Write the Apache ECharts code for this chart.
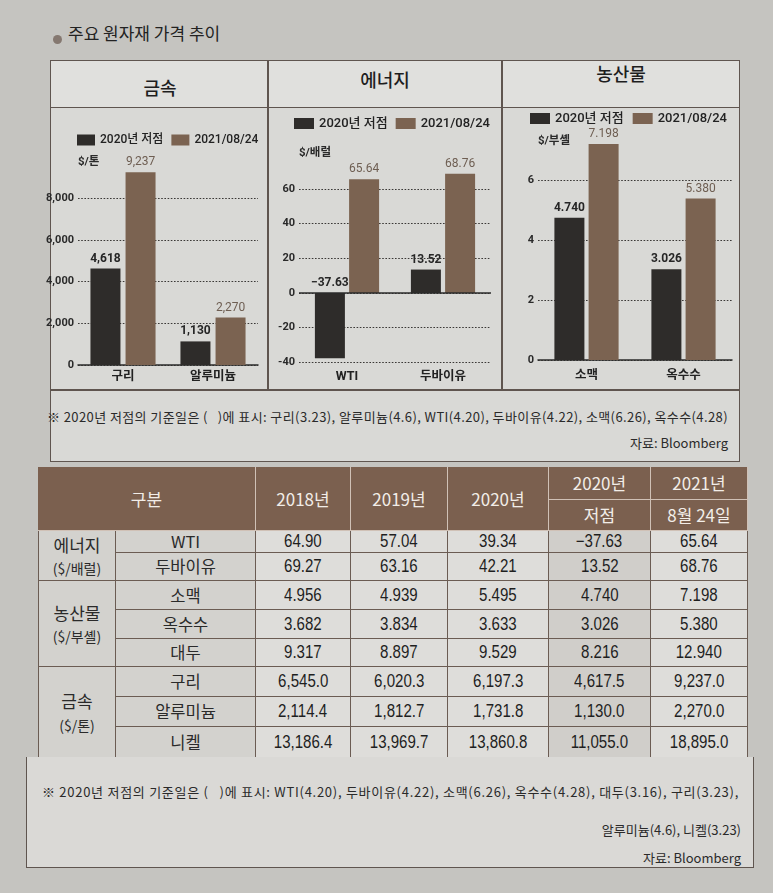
<!DOCTYPE html>
<html><head><meta charset="utf-8">
<script src="https://cdn.jsdelivr.net/npm/echarts@6/dist/echarts.min.js"></script>
<style>
html,body{margin:0;padding:0;}
body{width:773px;height:893px;background:#c5c4c0;position:relative;overflow:hidden;font-family:'Noto Sans CJK KR',sans-serif;color:#222;}
.abs{position:absolute;box-sizing:border-box;}
#chart{position:absolute;left:0;top:0;width:773px;height:893px;z-index:5;}
.cell{position:absolute;box-sizing:border-box;display:flex;flex-direction:column;align-items:center;justify-content:center;border-right:1.5px solid #6b5c53;border-bottom:1.5px solid #6b5c53;line-height:1.15;white-space:nowrap;}
.hd{background:#7b604f;color:#f2ede8;font-size:17px;border-color:rgba(236,226,216,0.75);}
.lab{background:#d3d2ce;color:#2a2a2a;font-size:16.5px;}
.val{background:#dedddA;font-family:'Liberation Sans','Noto Sans CJK KR',sans-serif;color:#1f1f1f;}
.val span{display:inline-block;font-size:17.5px;transform:scaleX(0.86);}
.low{background:#d0cecA;}
.note{position:absolute;white-space:pre;font-size:13px;color:#2a2a2a;line-height:16px;}
</style></head>
<body>
<div class="abs" style="left:53px;top:35px;width:9px;height:9px;border-radius:50%;background:#857870;"></div>
<div class="abs" style="left:68px;top:21px;font-size:17px;line-height:24px;color:#222;">주요 원자재 가격 추이</div>

<!-- top panel -->
<div class="abs" style="left:50px;top:60px;width:690px;height:402px;background:#d9d9d6;border:1.5px solid #5f554f;"></div>
<div class="abs" style="left:51px;top:61px;width:688px;height:47px;background:#e0e0dd;border-bottom:1.5px solid #5f554f;"></div>
<div class="abs" style="left:267px;top:60px;width:1.5px;height:330px;background:#5f554f;"></div>
<div class="abs" style="left:501px;top:60px;width:1.5px;height:330px;background:#5f554f;"></div>
<div class="abs" style="left:50px;top:389px;width:690px;height:1.5px;background:#5f554f;"></div>
<div id="heads"></div>
<div class="note" id="note1" style="left:47px;top:409px;"></div>
<div class="note" id="src1" style="right:45px;top:435px;"></div>

<div id="tbl"></div>
<div class="abs" style="left:26px;top:757px;width:728px;height:111px;background:#dad9d6;border:1.5px solid #5f554f;border-top:none;"></div>
<div class="note" id="note2" style="left:42px;top:784px;"></div>
<div class="note" id="note3" style="right:32px;top:822px;"></div>
<div class="note" id="src2" style="right:32px;top:850px;"></div>

<div id="chart"></div>
<script>
// ---------- data ----------
const seriesNames = ['2020년 저점', '2021/08/24'];
const panelTitles = ['금속', '에너지', '농산물'];

const metalCats = ['구리', '알루미늄'];
const metalLow  = [4618, 1130];
const metalNow  = [9237, 2270];

const energyCats = ['WTI', '두바이유'];
const energyLow  = [-37.63, 13.52];
const energyNow  = [65.64, 68.76];

const agriCats = ['소맥', '옥수수'];
const agriLow  = [4.740, 3.026];
const agriNow  = [7.198, 5.380];

const unitLabels = ['$/톤', '$/배럴', '$/부셸'];

const tableHeaders = ['구분', '2018년', '2019년', '2020년', '2020년', '저점', '2021년', '8월 24일'];
const groupNames = ['에너지', '농산물', '금속'];
const groupUnits = ['($/배럴)', '($/부셸)', '($/톤)'];
const groupItems = [['WTI', '두바이유'], ['소맥', '옥수수', '대두'], ['구리', '알루미늄', '니켈']];
const groupDecimals = [2, 3, 1];
const val2018 = [64.90, 69.27, 4.956, 3.682, 9.317, 6545.0, 2114.4, 13186.4];
const val2019 = [57.04, 63.16, 4.939, 3.834, 8.897, 6020.3, 1812.7, 13969.7];
const val2020 = [39.34, 42.21, 5.495, 3.633, 9.529, 6197.3, 1731.8, 13860.8];
const valLow  = [-37.63, 13.52, 4.740, 3.026, 8.216, 4617.5, 1130.0, 11055.0];
const val2021 = [65.64, 68.76, 7.198, 5.380, 12.940, 9237.0, 2270.0, 18895.0];

const note1Text = '※ 2020년 저점의 기준일은 (   )에 표시: 구리(3.23), 알루미늄(4.6), WTI(4.20), 두바이유(4.22), 소맥(6.26), 옥수수(4.28)';
const note2Text = '※ 2020년 저점의 기준일은 (   )에 표시: WTI(4.20), 두바이유(4.22), 소맥(6.26), 옥수수(4.28), 대두(3.16), 구리(3.23),';
const note3Text = '알루미늄(4.6), 니켈(3.23)';
const sourceText = '자료: Bloomberg';

// ---------- layout: headers ----------
const heads = document.getElementById('heads');
[[160, 87], [385, 79], [621, 73]].forEach((p, i) => {
  const d = document.createElement('div');
  d.className = 'abs';
  d.style.cssText = `left:${p[0]-60}px;top:${p[1]-13}px;width:120px;text-align:center;font-size:18px;font-weight:500;line-height:26px;color:#1e1e1e;`;
  d.textContent = panelTitles[i];
  heads.appendChild(d);
});

function fit(el, text, w) {
  el.textContent = text;
  if (w) {
    const cur = el.getBoundingClientRect().width;
    const n = text.length;
    el.style.letterSpacing = ((w - cur) / n) + 'px';
  }
}
fit(document.getElementById('note1'), note1Text, 681);
fit(document.getElementById('src1'), sourceText, 0);
fit(document.getElementById('note2'), note2Text, 697);
fit(document.getElementById('note3'), note3Text, 0);
fit(document.getElementById('src2'), sourceText, 0);

// ---------- table ----------
const tbl = document.getElementById('tbl');
const cx = [38, 116, 256, 351, 448, 549, 651, 748];
const hTop = 467, hMid = 500, hBot = 531;
const rowEdges = [531, 553, 581, 610, 639, 667, 697, 727, 758];
function cell(x1, y1, x2, y2, html, cls, extra) {
  const d = document.createElement('div');
  d.className = 'cell ' + cls;
  d.style.left = x1 + 'px'; d.style.top = y1 + 'px';
  d.style.width = (x2 - x1) + 'px'; d.style.height = (y2 - y1) + 'px';
  if (extra) d.style.cssText += extra;
  d.innerHTML = html;
  tbl.appendChild(d);
}
cell(cx[0], hTop, cx[2], hBot, tableHeaders[0], 'hd');
cell(cx[2], hTop, cx[3], hBot, tableHeaders[1], 'hd');
cell(cx[3], hTop, cx[4], hBot, tableHeaders[2], 'hd');
cell(cx[4], hTop, cx[5], hBot, tableHeaders[3], 'hd');
cell(cx[5], hTop, cx[6], hMid, tableHeaders[4], 'hd');
cell(cx[5], hMid, cx[6], hBot, tableHeaders[5], 'hd');
cell(cx[6], hTop, cx[7], hMid, tableHeaders[6], 'hd');
cell(cx[6], hMid, cx[7], hBot, tableHeaders[7], 'hd');

function fmt(v, dec) {
  const s = Math.abs(v).toLocaleString('en-US', {minimumFractionDigits: dec, maximumFractionDigits: dec});
  return '<span>' + (v < 0 ? '−' : '') + s + '</span>';
}
let r = 0;
groupNames.forEach((g, gi) => {
  const items = groupItems[gi];
  const y1 = rowEdges[r], y2 = rowEdges[r + items.length];
  cell(cx[0], y1, cx[1], y2, `<div style="font-size:17px">${g}</div><div style="font-size:14px;margin-top:6px">${groupUnits[gi]}</div>`, 'lab', 'border-left:1.5px solid #6b5c53;');
  items.forEach((it, ii) => {
    const a = rowEdges[r], b = rowEdges[r + 1];
    const dec = groupDecimals[gi];
    cell(cx[1], a, cx[2], b, it, 'lab');
    cell(cx[2], a, cx[3], b, fmt(val2018[r], dec), 'val');
    cell(cx[3], a, cx[4], b, fmt(val2019[r], dec), 'val');
    cell(cx[4], a, cx[5], b, fmt(val2020[r], dec), 'val');
    cell(cx[5], a, cx[6], b, fmt(valLow[r], dec), 'val low');
    cell(cx[6], a, cx[7], b, fmt(val2021[r], dec), 'val');
    r++;
  });
});

// ---------- charts ----------
const FF = "Roboto,'Noto Sans CJK KR',sans-serif";
const DARK = '#2e2c2a', BROWN = '#7b6351';
const chart = echarts.init(document.getElementById('chart'), null, {renderer: 'canvas'});

function yAxis(idx, min, max, interval, fmtFn, name, nameGap) {
  return {
    type: 'value', gridIndex: idx, min, max, interval,
    name, nameLocation: 'end', nameGap,
    nameTextStyle: {align: 'left', verticalAlign: 'middle', fontSize: 11.5, fontWeight: 'bold', color: '#2a2a2a', fontFamily: FF},
    axisLine: {show: false}, axisTick: {show: false},
    axisLabel: {fontSize: 11, fontWeight: 'bold', color: '#2a2a2a', fontFamily: FF, margin: 4, showMaxLabel: false, formatter: fmtFn},
    splitLine: {show: true, showMaxLine: false, lineStyle: {type: [1.6, 1.6], color: '#3a3836', width: 1.2}}
  };
}
function xAxis(idx, data, margin, lineShow) {
  return {
    type: 'category', gridIndex: idx, data,
    axisTick: {show: false},
    axisLine: {show: lineShow, onZero: false, lineStyle: {color: '#2b2b2b', width: 1.5}},
    axisLabel: {fontSize: 12.5, fontWeight: 'bold', color: '#222', fontFamily: FF, margin}
  };
}
function bars(idx, low, now, labelFmt, gap, extraLow) {
  const common = {type: 'bar', xAxisIndex: idx, yAxisIndex: idx, barWidth: 30, barGap: gap};
  return [
    Object.assign({}, common, {
      name: seriesNames[0], data: low, itemStyle: {color: DARK},
      label: {show: true, position: 'top', distance: 4, fontSize: 12, fontWeight: 'bold', color: '#262626', fontFamily: FF, formatter: p => labelFmt(p.value)}
    }, extraLow || {}),
    Object.assign({}, common, {
      name: seriesNames[1], data: now, itemStyle: {color: BROWN},
      label: {show: true, position: 'top', distance: 4, fontSize: 12, color: '#6e5e52', fontFamily: FF, formatter: p => labelFmt(p.value)}
    })
  ];
}
function legend(left, top, iw, fs, gap) {
  return {
    left, top, padding: 0, data: seriesNames, icon: 'rect', itemWidth: iw, itemHeight: 11, itemGap: gap,
    textStyle: {fontSize: fs, color: '#222', fontFamily: FF, fontWeight: 500}, selectedMode: false
  };
}
const thou = v => v.toLocaleString('en-US');
const option = {
  animation: false,
  legend: [legend(77, 134, 18, 12, 8), legend(294, 117, 20, 13, 8), legend(530, 112, 20, 13, 9)],
  grid: [
    {left: 78, top: 164.6, width: 180, height: 200.4},
    {left: 299, top: 162.9, width: 192, height: 199.5},
    {left: 538, top: 138, width: 194, height: 222}
  ],
  xAxis: [xAxis(0, metalCats, 6, true), xAxis(1, energyCats, 8, false), xAxis(2, agriCats, 10, true)],
  yAxis: [
    yAxis(0, 0, 9600, 2000, v => thou(v), unitLabels[0], 2),
    yAxis(1, -40, 75, 20, v => String(v), unitLabels[1], 10),
    yAxis(2, 0, 7.4, 2, v => String(v), unitLabels[2], -3)
  ],
  series: [
    ...bars(0, metalLow, metalNow, v => thou(v), '17%'),
    ...bars(1, energyLow, energyNow, v => (v < 0 ? '−' : '') + Math.abs(v).toFixed(2), '14%', {
      markLine: {silent: true, symbol: ['none', 'none'], label: {show: false},
        lineStyle: {color: '#2b2b2b', type: 'solid', width: 1.5}, data: [{yAxis: 0}]}
    }),
    ...bars(2, agriLow, agriNow, v => v.toFixed(3), '14%')
  ]
};
chart.setOption(option);
</script>
</body></html>
